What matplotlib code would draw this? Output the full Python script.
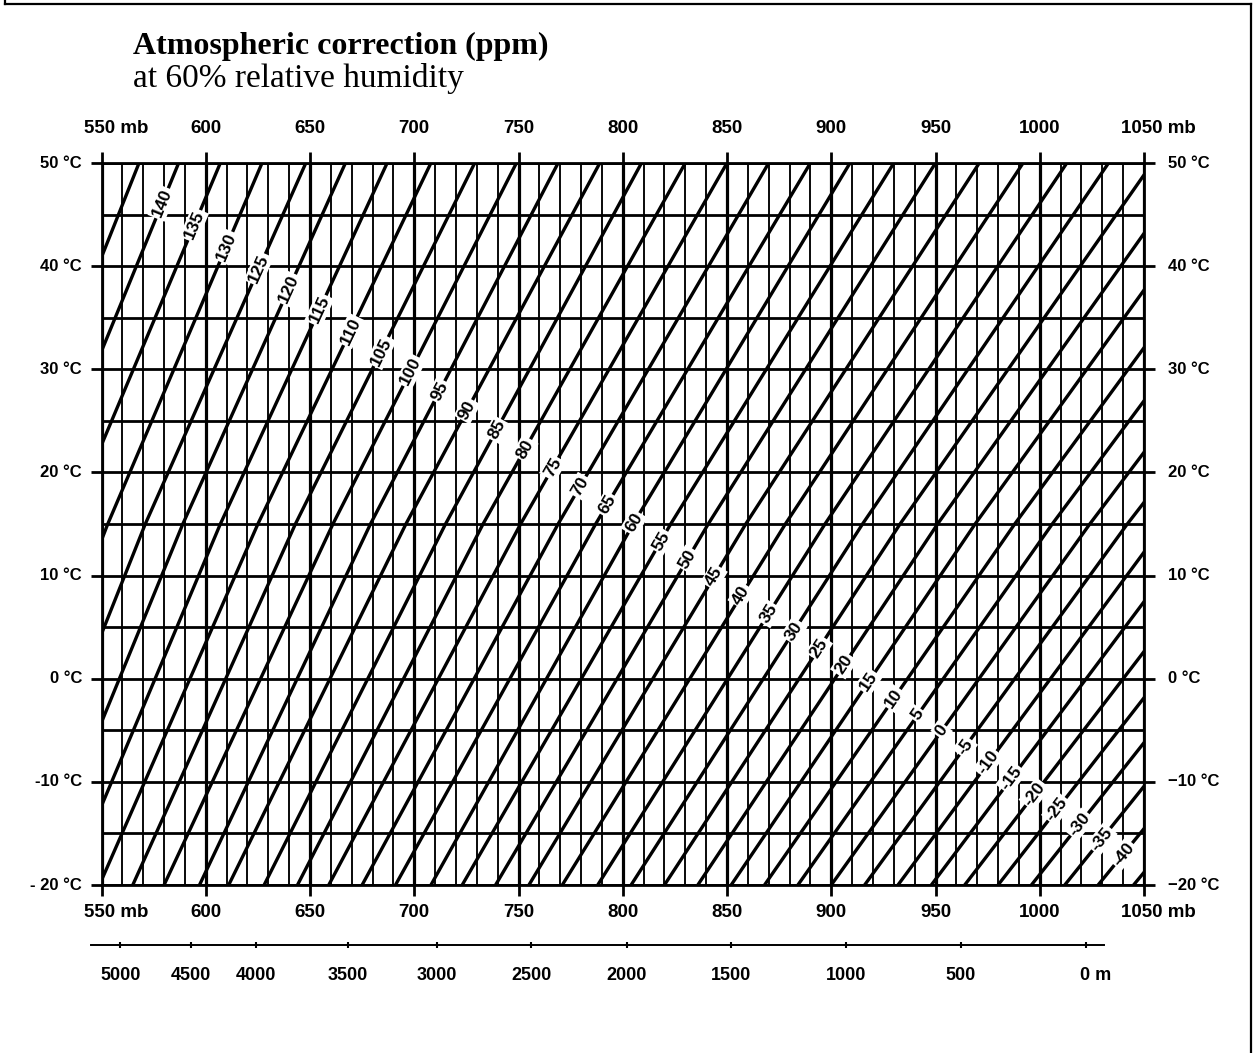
import numpy as np
import matplotlib
matplotlib.use("Agg")
import matplotlib.pyplot as plt
from matplotlib.lines import Line2D

# ---------------- data ----------------
pressure_ticks = [550, 600, 650, 700, 750, 800, 850, 900, 950, 1000, 1050]
pressure_labels = ["550", "600", "650", "700", "750", "800", "850", "900", "950", "1000", "1050"]
temp_ticks = [-20, -10, 0, 10, 20, 30, 40, 50]
temp_labels_left = ["- 20 °C", "-10 °C", "0 °C", "10 °C", "20 °C", "30 °C", "40 °C", "50 °C"]
temp_labels_right = ["\u221220 °C", "\u221210 °C", "0 °C", "10 °C", "20 °C", "30 °C", "40 °C", "50 °C"]

# correction lines (ppm): pressure (mb) where each line sits at -20 °C, 15 °C and 50 °C
curve_temps = [-20, 15, 50]
ppm_levels = [145, 140, 135, 130, 125, 120, 115, 110, 105, 100, 95, 90, 85, 80, 75,
              70, 65, 60, 55, 50, 45, 40, 35, 30, 25, 20, 15, 10, 5, 0,
              -5, -10, -15, -20, -25, -30, -35, -40, -45]
p_at_minus20 = [437, 453, 469, 486, 502, 518, 534, 549, 565, 580, 597, 611, 628, 644, 659,
                675, 691, 708, 723, 739, 755, 771, 788, 804, 820, 836, 852, 868, 884, 900,
                916, 932, 948, 964, 980, 996, 1012, 1028, 1045]
p_at_15 = [499, 516, 534, 553, 571, 589, 607, 625, 643, 661, 679, 696, 715, 733, 751,
           769, 787, 805, 823, 841, 859, 878, 897, 915, 933, 951, 969, 988, 1006, 1024,
           1042, 1060, 1078, 1097, 1115, 1133, 1151, 1169, 1188]
p_at_50 = [568, 587, 607, 627, 648, 667, 687, 708, 729, 749, 769, 789, 809, 830, 850,
           870, 890, 909, 930, 950, 971, 992, 1013, 1033, 1054, 1074, 1094, 1115, 1135, 1155,
           1176, 1196, 1216, 1237, 1257, 1277, 1298, 1318, 1338]
labeled_levels = [l for l in ppm_levels if -40 <= l <= 140]

# altitude scale (m) and the pressure (mb) it sits at
altitudes_m = [5000, 4500, 4000, 3500, 3000, 2500, 2000, 1500, 1000, 500, 0]
altitude_pressure = [559, 593, 624, 668, 711, 756, 802, 852, 907, 962, 1022]

# ---------------- figure ----------------
W, H = 1256, 1053
fig = plt.figure(figsize=(W / 100, H / 100), dpi=100)
fig.patch.set_facecolor("white")

L, R, T, B = 101.5, 1144, 163, 885
ax = fig.add_axes([L / W, 1 - B / H, (R - L) / W, (B - T) / H])
ax.set_xlim(550, 1050)
ax.set_ylim(-20, 50)
ax.set_facecolor("white")

tick_font = dict(family=["Liberation Sans", "DejaVu Sans"], weight="bold")

# grid
for p in range(550, 1051, 10):
    ax.axvline(p, color="black", lw=2.3 if p % 50 == 0 else 1.35, zorder=1)
for t in range(-20, 51, 5):
    ax.axhline(t, color="black", lw=2.0, zorder=1)

for s in ax.spines.values():
    s.set_linewidth(2.0)

ax.set_xticks(pressure_ticks)
ax.set_yticks(temp_ticks)
ax.tick_params(which="major", length=8, width=2.0, direction="out",
               top=True, right=True, bottom=True, left=True,
               labelbottom=False, labeltop=False, labelleft=False, labelright=False)

# correction lines
for lev, a, m, b in zip(ppm_levels, p_at_minus20, p_at_15, p_at_50):
    ax.plot([a, m, b], curve_temps, color="black", lw=2.4, zorder=2,
            solid_capstyle="butt")

# labels on the lines, placed along a diagonal guide
fig.canvas.draw()
g0 = np.array([579.0, 46.1])
g1 = np.array([1035.0, -16.3])
tt = np.linspace(-20, 50, 3501)
for lev, a, m, b in zip(ppm_levels, p_at_minus20, p_at_15, p_at_50):
    if lev not in labeled_levels:
        continue
    pc = np.interp(tt, curve_temps, [a, m, b])
    pg = g0[0] + (g0[1] - tt) * (g1[0] - g0[0]) / (g0[1] - g1[1])
    i = np.argmin(np.abs(pc - pg))
    tl, pl = tt[i], pc[i]
    d0 = ax.transData.transform((np.interp(tl - 2, curve_temps, [a, m, b]), tl - 2))
    d1 = ax.transData.transform((np.interp(tl + 2, curve_temps, [a, m, b]), tl + 2))
    ang = np.degrees(np.arctan2(d1[1] - d0[1], d1[0] - d0[0]))
    ax.text(pl, tl, str(lev), rotation=ang, rotation_mode="anchor",
            ha="center", va="center", fontsize=12.5, zorder=4, **tick_font,
            bbox=dict(boxstyle="square,pad=0.1", fc="white", ec="none"))

# pressure tick labels (top and bottom)
for p, lab in zip(pressure_ticks, pressure_labels):
    for yfrac, dy in ((1, 25), (0, -20)):
        if p in (550, 1050):
            ax.annotate(lab + " mb", xy=(p, yfrac), xycoords=("data", "axes fraction"),
                        xytext=(-4.2 * len(lab), dy), textcoords="offset points",
                        ha="left", va="center", fontsize=13.5, **tick_font,
                        annotation_clip=False)
        else:
            ax.annotate(lab, xy=(p, yfrac), xycoords=("data", "axes fraction"),
                        xytext=(0, dy), textcoords="offset points",
                        ha="center", va="center", fontsize=13.5, **tick_font,
                        annotation_clip=False)

# temperature labels
for t, ll, rl in zip(temp_ticks, temp_labels_left, temp_labels_right):
    ax.annotate(ll, xy=(0, t), xycoords=("axes fraction", "data"),
                xytext=(-14, 0), textcoords="offset points",
                ha="right", va="center", fontsize=12, **tick_font, annotation_clip=False)
    ax.annotate(rl, xy=(1, t), xycoords=("axes fraction", "data"),
                xytext=(17, 0), textcoords="offset points",
                ha="left", va="center", fontsize=12, **tick_font, annotation_clip=False)

# altitude scale
ax2 = fig.add_axes([L / W, 1 - 960 / H, (R - L) / W, 30 / H])
ax2.set_xlim(550, 1050)
ax2.set_ylim(0, 1)
ax2.axis("off")
ax2.plot([545, 1031], [0.5, 0.5], color="black", lw=1.4, clip_on=False)
ax2.plot(altitude_pressure, [0.5] * len(altitude_pressure), "|", color="black",
         ms=5, mew=1.5, clip_on=False)
for alt, p in zip(altitudes_m, altitude_pressure):
    if alt == 0:
        ax2.annotate("0 m", xy=(p, 0.5), xytext=(-4, -22), textcoords="offset points",
                     ha="left", va="center", fontsize=13, **tick_font, annotation_clip=False)
    else:
        ax2.annotate(str(alt), xy=(p, 0.5), xytext=(0, -22), textcoords="offset points",
                     ha="center", va="center", fontsize=13, **tick_font, annotation_clip=False)

# title
serif = ["Liberation Serif", "DejaVu Serif"]
fig.text(133 / W, 1 - 46 / H, "Atmospheric correction (ppm)", family=serif,
         weight="bold", fontsize=23, ha="left", va="center")
fig.text(133 / W, 1 - 78 / H, "at 60% relative humidity", family=serif,
         fontsize=24, ha="left", va="center")

# page frame
for xs, ys in (([5, 5], [0, 4]), ([5, 1251], [4, 4]), ([1251, 1251], [4, H])):
    fig.add_artist(Line2D([x / W for x in xs], [1 - y / H for y in ys],
                          color="black", lw=1.6, transform=fig.transFigure))

fig.savefig("out.png", dpi=100, facecolor="white")
